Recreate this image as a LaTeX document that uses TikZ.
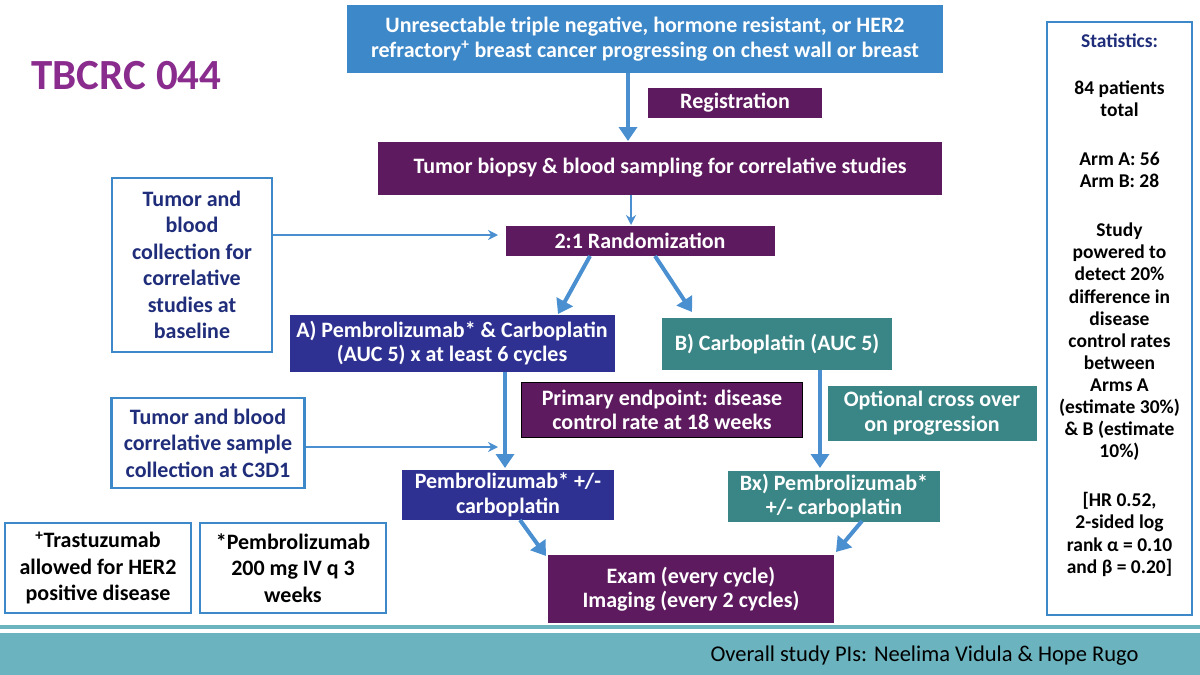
\documentclass[tikz,border=0pt]{standalone}
\usepackage{fontspec}
\setmainfont{Carlito}
\usetikzlibrary{arrows.meta}
\definecolor{topblue}{HTML}{3D88C8}
\definecolor{purp}{HTML}{5E1A5E}
\definecolor{dblue}{HTML}{2E3192}
\definecolor{teal2}{HTML}{3A8585}
\definecolor{arr}{HTML}{4A8FD0}
\definecolor{title}{HTML}{8A2C8E}
\definecolor{band}{HTML}{6BB3BE}
\definecolor{txtblue}{HTML}{1F2D7A}
\begin{document}
\begin{tikzpicture}[x=1pt,y=-1pt,
  fill box/.style={draw=none,inner sep=0,align=center,text=white,font=\bfseries\fontsize{22}{24.5}\selectfont},
  line box/.style={draw=topblue,line width=2.5pt,fill=white,inner sep=0,align=center,font=\bfseries\fontsize{22}{26.5}\selectfont},
  thick arr/.style={draw=arr,line width=4pt,-{Triangle[length=14pt,width=18pt]}},
  thin arr/.style={draw=arr,line width=2pt,-{Stealth[length=10pt,width=10pt]}}]
\useasboundingbox (0,0) rectangle (1200,675);
\fill[white] (0,0) rectangle (1200,675);
\node[anchor=west,text=title,font=\bfseries\fontsize{43}{46}\selectfont] (title) at (28,76) {TBCRC 044};
\node[fill box,fill=topblue,minimum width=596,minimum height=68] (top) at (645,39) {Unresectable triple negative, hormone resistant, or HER2\\refractory\textsuperscript{+} breast cancer progressing on chest wall or breast};
\node[fill box,fill=purp,minimum width=174,minimum height=30] (reg) at (735,103) {Registration};
\node[fill box,fill=purp,minimum width=564,minimum height=53] (bio) at (660,168) {Tumor biopsy \& blood sampling for correlative studies};
\node[line box,text=txtblue,minimum width=160,minimum height=174] (l1) at (192,265) {Tumor and\\blood\\collection for\\correlative\\studies at\\baseline};
\node[fill box,fill=purp,minimum width=269,minimum height=30] (rand) at (640,241) {2:1 Randomization};
\node[fill box,fill=dblue,minimum width=325,minimum height=57] (A) at (452,343) {A) Pembrolizumab* \& Carboplatin\\(AUC 5) x at least 6 cycles};
\node[fill box,fill=teal2,minimum width=230,minimum height=52] (B) at (777,344) {B) Carboplatin (AUC 5)};
\node[fill box,fill=purp,draw=black,line width=1.2pt,minimum width=281,minimum height=55] (prim) at (662,410) {Primary endpoint: disease\\control rate at 18 weeks};
\node[fill box,fill=teal2,minimum width=209,minimum height=55] (opt) at (932,413) {Optional cross over\\on progression};
\node[line box,text=txtblue,minimum width=193,minimum height=90] (l2) at (208,443) {Tumor and blood\\correlative sample\\collection at C3D1};
\node[fill box,fill=dblue,minimum width=212,minimum height=50] (Ap) at (508,495) {Pembrolizumab* +/-\\carboplatin};
\node[fill box,fill=teal2,minimum width=212,minimum height=51] (Bp) at (834,496) {Bx) Pembrolizumab*\\+/- carboplatin};
\node[fill box,fill=purp,minimum width=286,minimum height=68] (exam) at (691,589) {Exam (every cycle)\\Imaging (every 2 cycles)};
\node[line box,text=black,minimum width=186,minimum height=90] (tr) at (98,568) {\textsuperscript{+}Trastuzumab\\allowed for HER2\\positive disease};
\node[line box,text=black,minimum width=186,minimum height=90] (pe) at (293,568) {*Pembrolizumab\\200 mg IV q 3\\weeks};
\node[line box,minimum width=145,minimum height=593] (stat) at (1119.5,318.5) {};
\node[anchor=north,align=center,font=\bfseries\fontsize{19.5}{22.1}\selectfont] (stxt) at (1119.5,30) {\textcolor{txtblue}{Statistics:}\\[25pt]84 patients\\total\\[27pt]Arm A: 56\\Arm B: 28\\[27pt]Study\\powered to\\detect 20\%\\difference in\\disease\\control rates\\between\\Arms A\\(estimate 30\%)\\\& B (estimate\\10\%)\\[27pt]{[HR 0.52,}\\2-sided log\\rank α = 0.10\\and β = 0.20]};
% arrows
\draw[thick arr] (628,73) -- (628,141);
\draw[thin arr] (631,195) -- (631,225);
\draw[thin arr] (l1.east|-0,235) -- (498,235);
\coordinate (r1) at (590,256); \coordinate (r2) at (655,256);
\draw[thick arr] (r1) -- (558,314);
\draw[thick arr] (r2) -- (692,312);
\draw[thin arr] (l2.east|-0,447) -- (498,447);
\draw[thick arr] (505,372) -- (505,468);
\draw[thick arr] (820,370) -- (820,468);
\draw[thick arr] (520,520) -- (546,556);
\draw[thick arr] (862,521) -- (836,552);
% bottom band
\fill[band] (0,625) rectangle (1200,629);
\fill[band] (0,633) rectangle (1200,675);
\node[anchor=east,font=\fontsize{22.5}{26}\selectfont] (pis) at (1142,656) {Overall study PIs: Neelima Vidula \& Hope Rugo};
\end{tikzpicture}
\end{document}
